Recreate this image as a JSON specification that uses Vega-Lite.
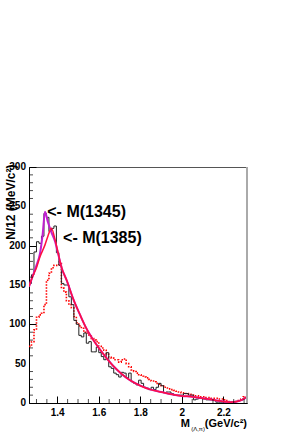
{
  "$schema": "https://vega.github.io/schema/vega-lite/v6.json",
  "autosize": "none",
  "width": 218,
  "height": 236,
  "padding": {"left": 29, "top": 167, "right": 53, "bottom": 33},
  "background": "white",
  "config": {
    "view": {"stroke": "#555", "strokeWidth": 1},
    "font": "Liberation Sans",
    "axis": {"labelFont": "Liberation Sans", "labelFontWeight": "bold", "labelFontSize": 10, "labelColor": "black", "domainColor": "black", "tickColor": "black", "grid": false, "titleFont": "Liberation Sans", "labelFlush": false, "labelOverlap": false}
  },
  "datasets": {
    "hist": [
      {"x":1.264,"d":152,"s":72},{"x":1.276,"d":163,"s":78},{"x":1.288,"d":192,"s":93},{"x":1.300,"d":205,"s":109},
      {"x":1.312,"d":203,"s":112},{"x":1.324,"d":212,"s":114},{"x":1.336,"d":241,"s":125},{"x":1.348,"d":236,"s":156},
      {"x":1.360,"d":218,"s":165},{"x":1.372,"d":222,"s":172},{"x":1.384,"d":225,"s":175},{"x":1.396,"d":191,"s":175},
      {"x":1.408,"d":175,"s":179},{"x":1.420,"d":152,"s":146},{"x":1.432,"d":150,"s":141},{"x":1.444,"d":150,"s":130},
      {"x":1.456,"d":135,"s":125},{"x":1.468,"d":125,"s":121},{"x":1.480,"d":105,"s":110},{"x":1.492,"d":100,"s":102},
      {"x":1.504,"d":86,"s":98},{"x":1.516,"d":84,"s":95},{"x":1.528,"d":89,"s":90},{"x":1.540,"d":76,"s":89},
      {"x":1.552,"d":78,"s":85},{"x":1.564,"d":65,"s":82},{"x":1.576,"d":65,"s":80},{"x":1.588,"d":71,"s":78},
      {"x":1.600,"d":64,"s":72},{"x":1.612,"d":59,"s":70},{"x":1.624,"d":55,"s":67},{"x":1.636,"d":64,"s":62},
      {"x":1.648,"d":46,"s":58},{"x":1.660,"d":44,"s":57},{"x":1.672,"d":38,"s":55},{"x":1.684,"d":36,"s":55},
      {"x":1.696,"d":33,"s":52},{"x":1.708,"d":39,"s":55},{"x":1.720,"d":38,"s":56},{"x":1.732,"d":32,"s":50},
      {"x":1.744,"d":38,"s":46},{"x":1.756,"d":27,"s":42},{"x":1.768,"d":25,"s":40},{"x":1.780,"d":23,"s":38},
      {"x":1.792,"d":29,"s":36},{"x":1.804,"d":25,"s":34},{"x":1.816,"d":20,"s":33},{"x":1.828,"d":19,"s":32},
      {"x":1.840,"d":17,"s":30},{"x":1.852,"d":20,"s":28},{"x":1.864,"d":17,"s":27},{"x":1.876,"d":20,"s":25},
      {"x":1.888,"d":25,"s":24},{"x":1.900,"d":22,"s":22},{"x":1.912,"d":13,"s":20},{"x":1.924,"d":14,"s":19},
      {"x":1.936,"d":14,"s":18},{"x":1.948,"d":12,"s":17},{"x":1.960,"d":10,"s":16},{"x":1.972,"d":10,"s":15},
      {"x":1.984,"d":10,"s":14},{"x":1.996,"d":10,"s":13},{"x":2.008,"d":12,"s":12},{"x":2.020,"d":12,"s":12},
      {"x":2.032,"d":10,"s":11},{"x":2.044,"d":10,"s":10},{"x":2.056,"d":4,"s":9},{"x":2.068,"d":5,"s":9},
      {"x":2.080,"d":6,"s":8},{"x":2.092,"d":6,"s":8},{"x":2.104,"d":5,"s":8},{"x":2.116,"d":4,"s":7},
      {"x":2.128,"d":4,"s":7},{"x":2.140,"d":4,"s":6},{"x":2.152,"d":3,"s":6},{"x":2.164,"d":1,"s":6},
      {"x":2.176,"d":1,"s":5},{"x":2.188,"d":1,"s":5},{"x":2.200,"d":1,"s":4},{"x":2.212,"d":1,"s":3},
      {"x":2.224,"d":1,"s":2},{"x":2.236,"d":1,"s":1},{"x":2.248,"d":1,"s":1},{"x":2.260,"d":2,"s":2},
      {"x":2.272,"d":3,"s":3},{"x":2.284,"d":4,"s":5},{"x":2.296,"d":6,"s":8},{"x":2.308,"d":6,"s":8},
      {"x":2.314,"d":6,"s":8}
    ],
    "fits": [
      {"x":1.264,"m":148,"r":148},{"x":1.28,"m":160,"r":160},{"x":1.30,"m":175,"r":172},{"x":1.317,"m":190,"r":186},
      {"x":1.33,"m":215,"r":194},{"x":1.341,"m":243,"r":201},{"x":1.355,"m":230,"r":212},{"x":1.372,"m":217,"r":222},
      {"x":1.39,"m":205,"r":207},{"x":1.404,"m":190,"r":191},{"x":1.42,"m":173,"r":173},{"x":1.447,"m":155,"r":155},
      {"x":1.476,"m":133,"r":133},{"x":1.51,"m":112,"r":112},{"x":1.54,"m":95,"r":95},{"x":1.574,"m":80,"r":80},
      {"x":1.62,"m":63,"r":63},{"x":1.67,"m":47,"r":47},{"x":1.71,"m":37,"r":37},{"x":1.75,"m":29,"r":29},
      {"x":1.80,"m":22,"r":22},{"x":1.85,"m":17,"r":17},{"x":1.90,"m":14,"r":14},{"x":1.95,"m":11,"r":11},
      {"x":2.00,"m":9,"r":9},{"x":2.05,"m":8,"r":8},{"x":2.10,"m":6,"r":6},{"x":2.15,"m":4,"r":4},
      {"x":2.20,"m":2,"r":2},{"x":2.23,"m":1,"r":1},{"x":2.26,"m":1.5,"r":1.5},{"x":2.29,"m":4,"r":4},{"x":2.314,"m":8,"r":8}
    ],
    "notes": [
      {"x":1.352,"y":243,"t":"<- M(1345)"},
      {"x":1.428,"y":210,"t":"<- M(1385)"}
    ],
    "ylabels": [
      {"v":0},{"v":50},{"v":100},{"v":150},{"v":200},{"v":250},{"v":300}
    ],
    "yminor": [
      {"v":10},{"v":20},{"v":30},{"v":40},{"v":60},{"v":70},{"v":80},{"v":90},{"v":110},{"v":120},{"v":130},{"v":140},
      {"v":160},{"v":170},{"v":180},{"v":190},{"v":210},{"v":220},{"v":230},{"v":240},{"v":260},{"v":270},{"v":280},{"v":290}
    ],
    "xminor": [
      {"v":1.3},{"v":1.35},{"v":1.45},{"v":1.5},{"v":1.55},{"v":1.65},{"v":1.7},{"v":1.75},{"v":1.85},{"v":1.9},{"v":1.95},
      {"v":2.05},{"v":2.1},{"v":2.15},{"v":2.25},{"v":2.3}
    ]
  },
  "layer": [
    {
      "data": {"name": "hist"},
      "mark": {"type": "line", "interpolate": "step-after", "color": "red", "strokeWidth": 1.6, "strokeDash": [1.5, 1.5], "clip": true},
      "encoding": {
        "x": {"field": "x", "type": "quantitative", "scale": {"domain": [1.264, 2.314], "nice": false, "zero": false},
          "axis": {"values": [1.4, 1.6, 1.8, 2.0, 2.2], "format": "~g", "tickSize": -7, "labelPadding": 11, "domainWidth": 1, "title": null}},
        "y": {"field": "s", "type": "quantitative", "scale": {"domain": [0, 300], "nice": false},
          "axis": {"values": [0, 50, 100, 150, 200, 250, 300], "tickSize": -7, "labels": false,
            "title": "N/12 (MeV/c²)", "titleFontSize": 12, "titleFontWeight": "bold", "titleAnchor": "end", "titleX": -19, "titleY": -3, "titleAlign": "right", "titleBaseline": "middle"}}
      }
    },
    {
      "data": {"name": "hist"},
      "mark": {"type": "line", "interpolate": "step-after", "color": "#222", "strokeWidth": 1, "clip": true},
      "encoding": {
        "x": {"field": "x", "type": "quantitative"},
        "y": {"field": "d", "type": "quantitative"}
      }
    },
    {
      "data": {"name": "fits"},
      "mark": {"type": "line", "interpolate": "monotone", "color": "#c020d0", "strokeWidth": 2, "clip": true},
      "encoding": {
        "x": {"field": "x", "type": "quantitative"},
        "y": {"field": "m", "type": "quantitative"}
      }
    },
    {
      "data": {"name": "fits"},
      "mark": {"type": "line", "interpolate": "monotone", "color": "#ff1040", "strokeWidth": 1.5, "clip": true},
      "encoding": {
        "x": {"field": "x", "type": "quantitative"},
        "y": {"field": "r", "type": "quantitative"}
      }
    },
    {
      "data": {"name": "yminor"},
      "mark": {"type": "tick", "orient": "horizontal", "size": 4, "thickness": 1, "color": "black", "xOffset": 2},
      "encoding": {"x": {"datum": 1.264, "type": "quantitative"}, "y": {"field": "v", "type": "quantitative"}}
    },
    {
      "data": {"name": "xminor"},
      "mark": {"type": "tick", "orient": "vertical", "size": 4, "thickness": 1, "color": "black", "yOffset": -2},
      "encoding": {"x": {"field": "v", "type": "quantitative"}, "y": {"datum": 0, "type": "quantitative"}}
    },
    {
      "data": {"name": "ylabels"},
      "mark": {"type": "text", "align": "right", "baseline": "middle", "fontSize": 10, "fontWeight": "bold", "font": "Liberation Sans", "color": "black", "dx": -3, "clip": false},
      "encoding": {"x": {"datum": 1.264, "type": "quantitative"}, "y": {"field": "v", "type": "quantitative"}, "text": {"field": "v", "type": "quantitative", "format": "d"}}
    },
    {
      "data": {"name": "notes"},
      "mark": {"type": "text", "align": "left", "baseline": "middle", "fontSize": 16, "fontWeight": "bold", "font": "Liberation Sans", "color": "black"},
      "encoding": {
        "x": {"field": "x", "type": "quantitative"},
        "y": {"field": "y", "type": "quantitative"},
        "text": {"field": "t"}
      }
    },
    {
      "data": {"values": [{"x": 2.314, "y": 0, "t": "(GeV/c²)"}]},
      "mark": {"type": "text", "align": "right", "baseline": "middle", "fontSize": 11, "fontWeight": "bold", "font": "Liberation Sans", "dy": 21, "color": "black", "clip": false},
      "encoding": {"x": {"field": "x", "type": "quantitative"}, "y": {"field": "y", "type": "quantitative"}, "text": {"field": "t"}}
    },
    {
      "data": {"values": [{"x": 2.314, "y": 0, "t": "(Λ,π)"}]},
      "mark": {"type": "text", "align": "right", "baseline": "middle", "fontSize": 6, "fontWeight": "normal", "font": "Liberation Sans", "dy": 26, "dx": -42, "color": "black", "clip": false},
      "encoding": {"x": {"field": "x", "type": "quantitative"}, "y": {"field": "y", "type": "quantitative"}, "text": {"field": "t"}}
    },
    {
      "data": {"values": [{"x": 2.314, "y": 0, "t": "M"}]},
      "mark": {"type": "text", "align": "right", "baseline": "middle", "fontSize": 11, "fontWeight": "bold", "font": "Liberation Sans", "dy": 21, "dx": -57, "color": "black", "clip": false},
      "encoding": {"x": {"field": "x", "type": "quantitative"}, "y": {"field": "y", "type": "quantitative"}, "text": {"field": "t"}}
    },
    {
      "data": {"values": [{"x": 2.314}]},
      "mark": {"type": "rule", "color": "#aaa", "strokeWidth": 2},
      "encoding": {"x": {"field": "x", "type": "quantitative"}}
    }
  ]
}
